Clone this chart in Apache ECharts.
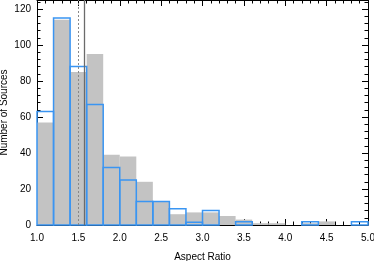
<!DOCTYPE html>
<html><head><meta charset="utf-8">
<script src="https://cdn.jsdelivr.net/npm/echarts@6/dist/echarts.min.js"></script>
<style>html,body{margin:0;padding:0;background:#fff}#c{width:374px;height:261px}</style>
</head><body><div id="c"></div>
<script>
const binStart = 1.0;
const binWidth = 0.2;
const grayCounts = [57, 114, 85, 95, 39, 38, 24, 13, 6, 7, 7, 5, 3, 1, 1, 0, 1, 2, 0, 0];
const blueCounts = [63, 115, 88, 67, 32, 25, 13, 13, 9, 1.5, 8, 0, 1.8, 0, 0, 0, 1.8, 0, 0, 1.8];
const refSolid = [1.57];
const refDashed = [1.5];
const xTicks = [1.0, 1.5, 2.0, 2.5, 3.0, 3.5, 4.0, 4.5, 5.0];
const yTicks = [0, 20, 40, 60, 80, 100, 120];

const grayData = grayCounts.map((v, i) => [binStart + i * binWidth, binStart + (i + 1) * binWidth, v]);
const blueData = blueCounts.map((v, i) => [binStart + i * binWidth, binStart + (i + 1) * binWidth, v]).filter(d => d[2] > 0);

function rectItem(fill, stroke, lw) {
  return function (params, api) {
    const p0 = api.coord([api.value(0), api.value(2)]);
    const p1 = api.coord([api.value(1), 0]);
    return {
      type: 'rect',
      shape: { x: p0[0], y: p0[1], width: p1[0] - p0[0], height: p1[1] - p0[1] },
      style: { fill: fill, stroke: stroke, lineWidth: lw }
    };
  };
}

const font = 'Liberation Sans';
const chart = echarts.init(document.getElementById('c'));
const axisCommon = {
  type: 'value',
  axisLine: { show: true, onZero: false, lineStyle: { color: '#000', width: 1 } },
  axisTick: { show: true, inside: true, length: 6, lineStyle: { color: '#000', width: 1 } },
  minorTick: { show: true, splitNumber: 5, length: 3.5, lineStyle: { color: '#000', width: 1 } },
  splitLine: { show: false },
  minorSplitLine: { show: false }
};
chart.setOption({
  animation: false,
  grid: { left: 37, right: 6, top: 0, bottom: 36, containLabel: false, outerBoundsMode: 'none' },
  xAxis: [
    Object.assign({}, axisCommon, {
      min: xTicks[0], max: xTicks[xTicks.length - 1], interval: 0.5, position: 'bottom',
      name: 'Aspect Ratio', nameLocation: 'middle', nameGap: 27, nameMoveOverlap: false,
      nameTextStyle: { fontFamily: font, fontSize: 10, color: '#000' },
      axisLabel: { margin: 8, fontFamily: font, fontSize: 10, color: '#000', formatter: v => v.toFixed(1) }
    }),
    Object.assign({}, axisCommon, {
      min: xTicks[0], max: xTicks[xTicks.length - 1], interval: 0.5, position: 'top',
      axisLabel: { show: false }
    })
  ],
  yAxis: [
    Object.assign({}, axisCommon, {
      min: 0, max: 125, interval: 20, position: 'left',
      name: 'Number of Sources', nameLocation: 'middle', nameGap: 28, nameRotate: 90, nameMoveOverlap: false,
      nameTextStyle: { fontFamily: font, fontSize: 10, color: '#000' },
      axisLabel: { margin: 6, fontFamily: font, fontSize: 10, color: '#000', showMaxLabel: false,
        formatter: v => (yTicks.indexOf(v) >= 0 ? String(v) : '') }
    }),
    Object.assign({}, axisCommon, {
      min: 0, max: 125, interval: 20, position: 'right',
      axisLabel: { show: false }
    })
  ],
  series: [
    { type: 'custom', renderItem: rectItem('#c3c3c3', null, 0), data: grayData, encode: { x: [0, 1], y: 2 }, z: 1 },
    { type: 'custom', renderItem: rectItem(null, '#3a95f2', 1.5), data: blueData, encode: { x: [0, 1], y: 2 }, z: 2 },
    {
      type: 'line', data: [], z: 3,
      markLine: {
        symbol: 'none', silent: true, label: { show: false },
        data: refSolid.map(v => ({ xAxis: v, lineStyle: { color: '#6b6b6b', width: 1.3, type: 'solid' } }))
          .concat(refDashed.map(v => ({ xAxis: v, lineStyle: { color: '#888', width: 1, type: [2, 2] } })))
      }
    }
  ]
});
</script></body></html>
